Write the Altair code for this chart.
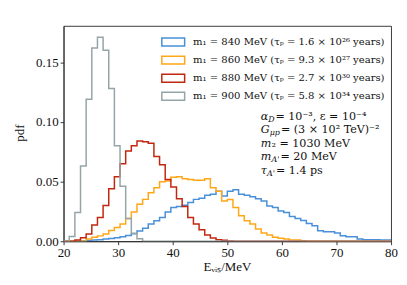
import altair as alt
import pandas as pd

# ---------------- data ----------------
E_MIN, E_MAX, N_BINS = 20.0, 80.0, 58

masses = ["840", "860", "880", "900"]
lifetimes = ["1.6 × 10²⁶", "9.3 × 10²⁷", "2.7 × 10³⁰", "5.8 × 10³⁴"]
colors = ["#4a90d9", "#ffa716", "#c1270f", "#95a5a6"]

# pdf values per bin (first listed bin index given by *_start)
blue_start = 3
blue_pdf = [0.0003, 0.0006, 0.0010, 0.0013, 0.0018, 0.0023, 0.0030, 0.0038, 0.0048, 0.0062,
            0.0085, 0.0108, 0.0144, 0.0171, 0.0199, 0.0246, 0.0282, 0.0291, 0.0301, 0.0324,
            0.0351, 0.0360, 0.0385, 0.0393, 0.0420, 0.0379, 0.0420, 0.0432, 0.0393, 0.0385,
            0.0372, 0.0357, 0.0337, 0.0296, 0.0282, 0.0254, 0.0241, 0.0208, 0.0191, 0.0174,
            0.0149, 0.0130, 0.0088, 0.0080, 0.0080, 0.0069, 0.0047, 0.0038, 0.0038, 0.0019,
            0.0013, 0.0013, 0.0012, 0.0011, 0.0010]
orange_start = 4
orange_pdf = [0.0019, 0.0033, 0.0045, 0.0060, 0.0090, 0.0115, 0.0145, 0.0190, 0.0245, 0.0310,
              0.0351, 0.0407, 0.0448, 0.0498, 0.0505, 0.0537, 0.0540, 0.0523, 0.0517, 0.0512,
              0.0512, 0.0523, 0.0448, 0.0420, 0.0337, 0.0350, 0.0282, 0.0213, 0.0171, 0.0144,
              0.0102, 0.0069, 0.0052, 0.0033, 0.0025, 0.0019, 0.0010, 0.0010, 0.0004]
red_start = 2
red_pdf = [0.0010, 0.0030, 0.0060, 0.0136, 0.0200, 0.0300, 0.0440, 0.0540, 0.0650, 0.0756,
           0.0800, 0.0840, 0.0833, 0.0822, 0.0711, 0.0642, 0.0517, 0.0454, 0.0357, 0.0291,
           0.0199, 0.0144, 0.0096, 0.0052, 0.0027, 0.0013, 0.0008, 0.0003]
gray_start = 1
gray_pdf = [0.004, 0.024, 0.063, 0.119, 0.162, 0.171, 0.160, 0.128, 0.080, 0.046,
            0.019, 0.0067, 0.002]

x_ticks = [20, 30, 40, 50, 60, 70, 80]
y_ticks = [0.00, 0.05, 0.10, 0.15]
x_title = "Eᵥᵢₛ/MeV"
y_title = "pdf"

# ---------------- layout constants ----------------
W, H = 330, 217
Y_MAX = 0.1805
FONT = "Liberation Serif"
TFONT = "DejaVu Serif"
AXIS_COLOR = "#262626"
TXT = 10.1
ATXT = 11.2
SUB = 8.0

width_bin = (E_MAX - E_MIN) / N_BINS


def step_frame(start, values):
    full = [0.0] * N_BINS
    for i, v in enumerate(values):
        full[start + i] = v
    rows = [{"E": E_MIN, "val": 0.0, "idx": 0}]
    for k, v in enumerate(full):
        rows.append({"E": E_MIN + k * width_bin, "val": v, "idx": k + 1})
    rows.append({"E": E_MAX, "val": 0.0, "idx": N_BINS + 1})
    return pd.DataFrame(rows)


series = [(blue_start, blue_pdf), (orange_start, orange_pdf),
          (red_start, red_pdf), (gray_start, gray_pdf)]

x_scale = alt.Scale(domain=[E_MIN, E_MAX], nice=False, zero=False)
y_scale = alt.Scale(domain=[0, Y_MAX], nice=False)
x_axis = alt.Axis(values=x_ticks, title=None, format="d")
y_axis = alt.Axis(values=y_ticks, title=None, format=".2f")

layers = []
for i, (st, vals) in enumerate(series):
    df = step_frame(st, vals)
    layers.append(
        alt.Chart(df).mark_line(interpolate="step-after", color=colors[i], strokeWidth=1.5,
                                clip=True)
        .encode(x=alt.X("E:Q", scale=x_scale, axis=x_axis),
                y=alt.Y("val:Q", scale=y_scale, axis=y_axis),
                order="idx:Q")
    )

# axis titles drawn as text (plot-pixel positions)
ytitle_df = pd.DataFrame({"t": [y_title], "px": [-44.0], "py": [108.0]})
ytitle = alt.Chart(ytitle_df).mark_text(
    angle=270, align="center", baseline="middle", font=FONT, fontSize=13, color="#111111"
).encode(x=alt.X("px:Q", scale=None, axis=None),
         y=alt.Y("py:Q", scale=None, axis=None), text="t:N")

xtitle_df = pd.DataFrame({"t": [x_title], "px": [165.0], "py": [243.0]})
xtitle = alt.Chart(xtitle_df).mark_text(
    align="center", baseline="middle", font=FONT, fontSize=13, color="#111111"
).encode(x=alt.X("px:Q", scale=None, axis=None),
         y=alt.Y("py:Q", scale=None, axis=None), text="t:N")

# legend
leg_df = pd.DataFrame({
    "label": [f"m₁ = {m} MeV (τₚ = {t} years)" for m, t in zip(masses, lifetimes)],
    "color": colors,
    "row": list(range(4)),
})
leg_df["yc"] = 16.3 + leg_df["row"] * 18.2
leg_df["y1"] = leg_df["yc"] - 4
leg_df["y2"] = leg_df["yc"] + 4

leg_rect = alt.Chart(leg_df).mark_rect(fill="white", strokeWidth=1.5).encode(
    x=alt.value(99), x2=alt.value(122),
    y=alt.Y("y1:Q", scale=None, axis=None), y2=alt.Y2("y2:Q"),
    stroke=alt.Color("color:N", scale=None),
)
leg_text = alt.Chart(leg_df).mark_text(align="left", baseline="middle", font=TFONT,
                                       fontSize=TXT, color="#111111").encode(
    x=alt.value(130.5), y=alt.Y("yc:Q", scale=None, axis=None), text="label:N"
)

# annotation text (segments: text, dx, is_sub, italic)
ann_x0 = 198.7
ann_rows = [
    [("α", 0, False, True), ("D", 7.5, True, True), (" = 10⁻³, ε = 10⁻⁴", 14.8, False, False)],
    [("G", 0, False, True), ("μp", 9.0, True, True), (" = (3 × 10²  TeV)⁻²", 20.3, False, False)],
    [("m", 0, False, True), ("₂ = 1030 MeV", 10.8, False, False)],
    [("m", 0, False, True), ("A'", 10.8, True, True), (" = 20 MeV", 19.8, False, False)],
    [("τ", 0, False, True), ("A'", 6.3, True, True), (" = 1.4 ps", 15.3, False, False)],
]
ann_y = [92.0, 105.3, 118.6, 132.6, 146.0]
seg_records = []
for r, segs in enumerate(ann_rows):
    for txt, dx, sub, ital in segs:
        seg_records.append({"t": txt, "x": ann_x0 + dx, "y": ann_y[r] + (2.8 if sub else 0.0),
                            "size": SUB if sub else ATXT, "style": "italic" if ital else "normal"})
seg_df = pd.DataFrame(seg_records)

ann_layers = []
for style in ["normal", "italic"]:
    for size in [ATXT, SUB]:
        sub = seg_df[(seg_df["style"] == style) & (seg_df["size"] == size)]
        if len(sub) == 0:
            continue
        ann_layers.append(
            alt.Chart(sub).mark_text(align="left", baseline="middle", font=TFONT, fontSize=size,
                                     fontStyle=style, color="#111111")
            .encode(x=alt.X("x:Q", scale=None, axis=None),
                    y=alt.Y("y:Q", scale=None, axis=None), text="t:N")
        )

chart = alt.layer(*layers, ytitle, xtitle, leg_rect, leg_text, *ann_layers).properties(
    width=W, height=H,
    autosize="none",
    padding={"left": 56, "top": 17, "right": 8, "bottom": 36},
).configure_view(
    stroke=AXIS_COLOR, strokeWidth=0.9
).configure_axis(
    grid=False,
    domainColor=AXIS_COLOR, domainWidth=0.9,
    tickColor=AXIS_COLOR, tickWidth=0.9, tickSize=3.5,
    labelFont=FONT, labelFontSize=13, labelColor="#111111", labelPadding=2,
    titleOpacity=0, titleColor="transparent", titleFontSize=1,
    zindex=1,
).configure_axisX(
    labelFlush=False,
)

chart.save("out.html", embed_options={"renderer": "svg", "actions": False})
